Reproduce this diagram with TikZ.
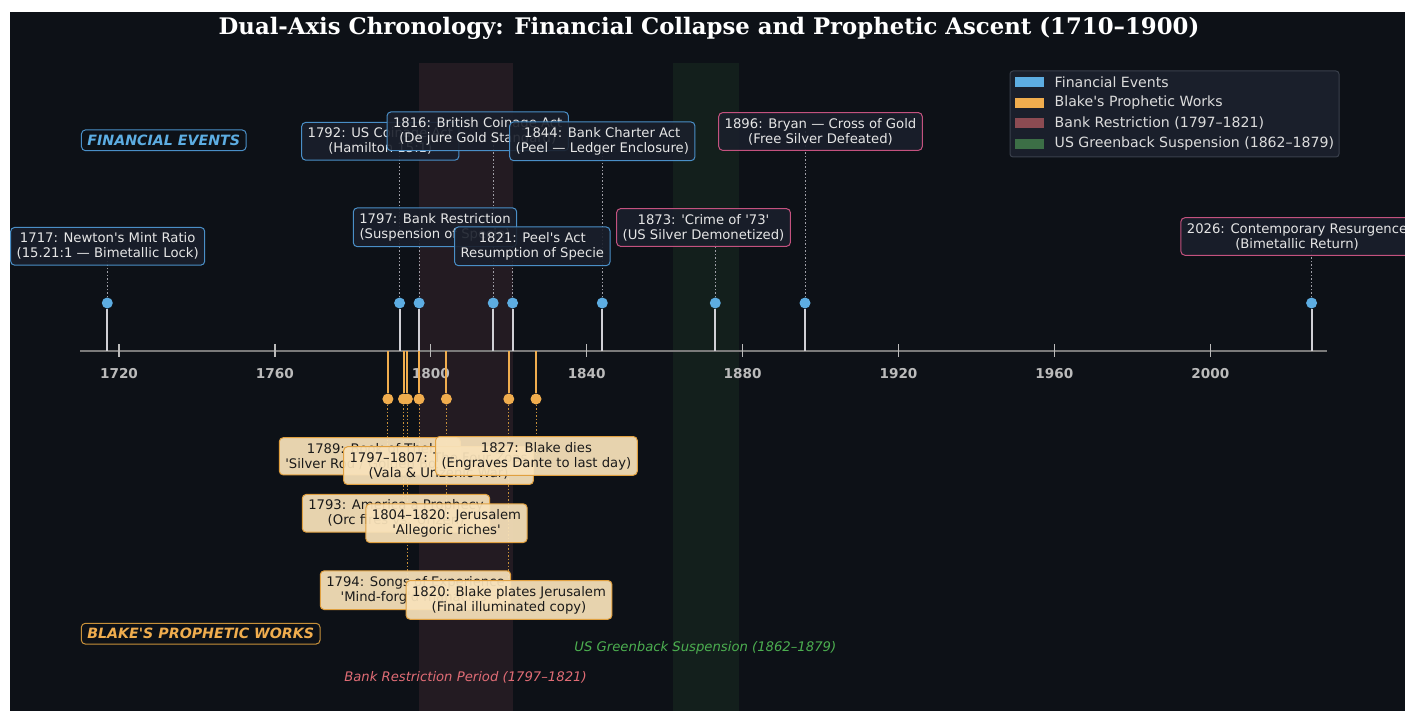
\documentclass[tikz,border=0pt]{standalone}
\usepackage{fontspec}
\setmainfont{DejaVu Sans}[Ligatures=TeXOff]
\newfontfamily\titlefont{DejaVu Serif}[Ligatures=TeXOff]
\usetikzlibrary{positioning}
\pgfdeclarelayer{bg}
\pgfsetlayers{bg,main}

\definecolor{bgdark}{HTML}{0D1117}
\definecolor{boxdark}{HTML}{1A1F2B}
\definecolor{finblue}{HTML}{5DADE2}
\definecolor{finedge}{HTML}{4A8FC7}
\definecolor{pinkedge}{HTML}{C4527F}
\definecolor{blkorange}{HTML}{F0AD4E}
\definecolor{blkedge}{HTML}{E0A040}
\definecolor{blkguide}{HTML}{C8913A}
\definecolor{wheat}{HTML}{F8E2BA}
\definecolor{lighttext}{HTML}{E6E6E6}
\definecolor{inkdark}{HTML}{1A1A1A}
\definecolor{stemgray}{HTML}{D0D0D5}
\definecolor{guidegray}{HTML}{A0A0A8}
\definecolor{axisgray}{HTML}{7A7A7A}
\definecolor{tickgray}{HTML}{BBBBBB}
\definecolor{restrictshade}{HTML}{231B22}
\definecolor{greenshade}{HTML}{131F1C}
\definecolor{restrictpatch}{HTML}{8C4B52}
\definecolor{greenpatch}{HTML}{3C6E46}
\definecolor{restricttext}{HTML}{E06C75}
\definecolor{greentext}{HTML}{4CAF50}
\definecolor{legfill}{HTML}{1A1F2B}
\definecolor{legedge}{HTML}{3A404C}
\definecolor{legtextgray}{HTML}{DCDCDC}

\begin{document}
\begin{tikzpicture}[x=1pt,y=-1pt,
    every node/.style={font=\fontsize{13.2}{15}\selectfont},
    fin/.style={draw=finedge,line width=1pt,fill=boxdark,fill opacity=0.9,text opacity=1,
      text=lighttext,rounded corners=4pt,align=center,inner xsep=6pt,inner ysep=5.5pt},
    finlate/.style={fin,draw=pinkedge},
    blk/.style={fin,draw=blkedge,fill=wheat,fill opacity=0.93,text=inkdark},
    fdot/.style={circle,fill=finblue,inner sep=0pt,minimum size=11pt},
    bdot/.style={fdot,fill=blkorange},
    fstem/.style={draw=stemgray,line width=2pt},
    bstem/.style={draw=blkorange,line width=2pt},
    fguide/.style={draw=guidegray,line width=1pt,dash pattern=on 1.5pt off 2pt},
    bguide/.style={fguide,draw=blkguide},
    catlabel/.style={font=\bfseries\itshape\fontsize{14.2}{16}\selectfont,fill=bgdark,
      rounded corners=4pt,line width=1pt,inner xsep=6pt,inner ysep=5pt},
    patch/.style={minimum width=29pt,minimum height=10pt,inner sep=0pt},
    legtext/.style={text=legtextgray,font=\fontsize{14.1}{16}\selectfont}]

\useasboundingbox (0,0) rectangle (1405,711);

% background, period shading, axis
\begin{pgfonlayer}{bg}
\fill[white] (0,0) rectangle (1405,711);
\fill[bgdark] (10,12) rectangle (1405,711);
\fill[restrictshade] (419.1,63) rectangle (512.6,711);
\fill[greenshade] (672.5,63) rectangle (738.7,711);
\end{pgfonlayer}

\coordinate (axL) at (80,351);
\coordinate (axR) at (1327.2,351);
\draw[axisgray,line width=2.5pt] (axL) -- (axR);
\foreach \yr in {1720,1760,...,2000}{
  \pgfmathsetmacro{\xx}{119+(\yr-1720)*3.8975}
  \draw[tickgray,line width=1.2pt] (\xx,344) -- (\xx,357);
  \node[text=tickgray,font=\bfseries\fontsize{13.6}{15}\selectfont] (t\yr) at (\xx,374) {\yr};
}

\node[font=\titlefont\bfseries\fontsize{22.8}{26}\selectfont,text=white] (title) at (709,28)
  {Dual-Axis Chronology: Financial Collapse and Prophetic Ascent (1710–1900)};

% financial events (above the axis)
\node[fdot] (f1717) at (107.3,303) {};
\node[fdot] (f1792) at (399.6,303) {};
\node[fdot] (f1797) at (419.1,303) {};
\node[fdot] (f1816) at (493.2,303) {};
\node[fdot] (f1821) at (512.6,303) {};
\node[fdot] (f1844) at (602.3,303) {};
\node[fdot] (f1873) at (715.3,303) {};
\node[fdot] (f1896) at (805.0,303) {};
\node[fdot] (f2026) at (1311.6,303) {};
\foreach \n in {1717,1792,1797,1816,1821,1844,1873,1896,2026}
  \draw[fstem] (f\n |- axL) -- (f\n.south);

% blake's works (below the axis)
\node[bdot] (b1789) at (387.9,399) {};
\node[bdot] (b1793) at (403.5,399) {};
\node[bdot] (b1794) at (407.4,399) {};
\node[bdot] (b1797) at (419.1,399) {};
\node[bdot] (b1804) at (446.4,399) {};
\node[bdot] (b1820) at (508.8,399) {};
\node[bdot] (b1827) at (536.0,399) {};
\foreach \n in {1789,1793,1794,1797,1804,1820,1827}
  \draw[bstem] (b\n |- axL) -- (b\n.north);

% labels
\node[fin] (F1717) at (107.7,246.3) {1717: Newton's Mint Ratio\\(15.21:1 — Bimetallic Lock)};
\node[fin] (F1792) at (380.3,141.3) {1792: US Coinage Act\\(Hamilton 15:1)};
\node[fin] (F1797) at (435.0,227.3) {1797: Bank Restriction\\(Suspension of Specie)};
\node[fin] (F1816) at (477.7,131.3) {1816: British Coinage Act\\(De jure Gold Standard)};
\node[fin] (F1821) at (532.3,246.3) {1821: Peel's Act\\Resumption of Specie};
\node[fin] (F1844) at (602.3,141.3) {1844: Bank Charter Act\\(Peel — Ledger Enclosure)};
\node[finlate] (F1873) at (703.5,227.5) {1873: 'Crime of '73'\\(US Silver Demonetized)};
\node[finlate] (F1896) at (820.5,131.5) {1896: Bryan — Cross of Gold\\(Free Silver Defeated)};
\node[finlate] (F2026) at (1297,236.5) {2026: Contemporary Resurgence\\(Bimetallic Return)};

\node[blk] (B1789) at (369.8,456.3) {1789: Book of Thel\\'Silver Rod / Golden Bowl'};
\node[blk] (B1793) at (396.0,513.3) {1793: America a Prophecy\\(Orc fires vs. Urizen)};
\node[blk] (B1794) at (415.5,590.2) {1794: Songs of Experience\\'Mind-forg'd manacles'};
\node[blk] (B1797) at (438.5,465.6) {1797–1807: The Four Zoas\\(Vala \& Urizenic War)};
\node[blk] (B1804) at (446.5,523.2) {1804–1820: Jerusalem\\'Allegoric riches'};
\node[blk] (B1820) at (509.0,599.9) {1820: Blake plates Jerusalem\\(Final illuminated copy)};
\node[blk] (B1827) at (536.4,455.9) {1827: Blake dies\\(Engraves Dante to last day)};

\begin{pgfonlayer}{bg}
\foreach \n in {1717,1792,1797,1816,1821,1844,1873,1896,2026}
  \draw[fguide] (f\n.north) -- (f\n |- F\n.center);
\foreach \n in {1789,1793,1794,1797,1804,1820,1827}
  \draw[bguide] (b\n.south) -- (b\n |- B\n.center);
\end{pgfonlayer}

% section and period captions
\node[catlabel,draw=finedge,text=finblue] (catF) at (163.8,140.3) {FINANCIAL EVENTS};
\node[catlabel,draw=blkguide,text=blkorange] (catB) at (200.7,633.7) {BLAKE'S PROPHETIC WORKS};
\node[text=restricttext,font=\itshape\fontsize{13.2}{15}\selectfont] (perR) at (465.5,677.3)
  {Bank Restriction Period (1797–1821)};
\node[text=greentext,font=\itshape\fontsize{13.2}{15}\selectfont] (perG) at (705.3,648.3)
  {US Greenback Suspension (1862–1879)};

% legend
\node[draw=legedge,fill=legfill,rounded corners=3pt,line width=1pt,
  minimum width=329pt,minimum height=86pt] (legend) at (1174.5,114) {};
\node[patch,fill=finblue] (lp1) at (1029.5,82.5) {};
\node[patch,fill=blkorange] (lp2) at (1029.5,103) {};
\node[patch,fill=restrictpatch] (lp3) at (1029.5,123.5) {};
\node[patch,fill=greenpatch] (lp4) at (1029.5,144) {};
\node[legtext,right=7pt of lp1] (lt1) {Financial Events};
\node[legtext,right=7pt of lp2] (lt2) {Blake's Prophetic Works};
\node[legtext,right=7pt of lp3] (lt3) {Bank Restriction (1797–1821)};
\node[legtext,right=7pt of lp4] (lt4) {US Greenback Suspension (1862–1879)};

\end{tikzpicture}
\end{document}
